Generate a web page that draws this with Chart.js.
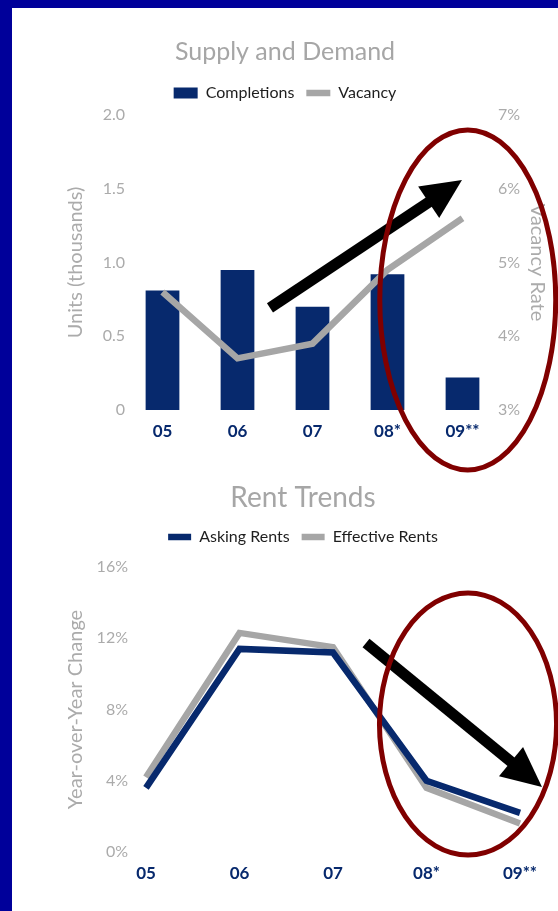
<!DOCTYPE html>
<html>
<head>
<meta charset="utf-8">
<script src="https://cdn.jsdelivr.net/npm/chart.js@4.4.1/dist/chart.umd.min.js"></script>
<style>
  html, body { margin: 0; padding: 0; width: 558px; height: 911px; overflow: hidden; background: #00009a; }
  #panel { position: absolute; left: 12px; top: 8px; width: 546px; height: 903px; background: #ffffff; }
  #supply { position: absolute; left: 0; top: 0; width: 546px; height: 468px; }
  #rent { position: absolute; left: 0; top: 468px; width: 546px; height: 435px; }
</style>
</head>
<body>
<div id="panel">
  <canvas id="supply" width="546" height="468"></canvas>
  <canvas id="rent" width="546" height="435"></canvas>
</div>
<script>
// ---- data ----
const years = ['05', '06', '07', '08*', '09**'];
const completions = [0.81, 0.95, 0.70, 0.92, 0.22];     // units, thousands
const vacancy = [4.6, 3.7, 3.9, 4.9, 5.6];              // vacancy rate, %
const unitTicks = ['0', '0.5', '1.0', '1.5', '2.0'];
const vacancyTicks = ['3%', '4%', '5%', '6%', '7%'];

const askingRents = [3.6, 11.4, 11.2, 4.0, 2.2];        // year-over-year change, %
const effectiveRents = [4.2, 12.3, 11.5, 3.6, 1.6];
const rentTicks = ['0%', '4%', '8%', '12%', '16%'];

// ---- styling ----
const NAVY = '#07296d';
const GREY = '#a6a6a6';
const LABEL_GREY = '#ababab';
const LEGEND_TEXT = '#1e1e1e';
const RING = '#800000';

Chart.defaults.font.family = 'Lato, "Open Sans", sans-serif';

// Adds a little air between the legend and the plot area.
function legendGap(extra) {
  return {
    id: 'legendGap',
    beforeInit(chart) {
      const legend = chart.legend;
      if (!legend) return;
      const fit = legend.fit;
      legend.fit = function () { fit.call(this); this.height += extra; };
    }
  };
}

// Highlight ring and trend arrow, placed in axis units.
function trendMarkup(spec) {
  return {
    id: 'trendMarkup',
    afterDraw(chart) {
      const ctx = chart.ctx;
      const xs = chart.scales.x, ys = chart.scales[spec.yAxis];
      const px = v => xs.getPixelForValue(v);
      const py = v => ys.getPixelForValue(v);
      ctx.save();
      // arrow
      const a = spec.arrow;
      const x0 = px(a.from[0]), y0 = py(a.from[1]);
      const x1 = px(a.to[0]), y1 = py(a.to[1]);
      const len = Math.hypot(x1 - x0, y1 - y0);
      ctx.save();
      ctx.translate(x0, y0);
      ctx.rotate(Math.atan2(y1 - y0, x1 - x0));
      ctx.fillStyle = '#000';
      ctx.fillRect(0, -5.5, len - 38, 11);
      ctx.beginPath();
      ctx.moveTo(len, 0);
      ctx.lineTo(len - 40, -19);
      ctx.lineTo(len - 40, 19);
      ctx.closePath();
      ctx.fill();
      ctx.restore();
      // ring
      const r = spec.ring;
      const cx = px(r.x), cy = py(r.y);
      const rx = Math.abs(px(r.x + r.dx) - cx);
      const ry = Math.abs(py(r.y + r.dy) - cy);
      ctx.beginPath();
      ctx.ellipse(cx, cy, rx, ry, 0, 0, Math.PI * 2);
      ctx.lineWidth = 5;
      ctx.strokeStyle = RING;
      ctx.stroke();
      ctx.restore();
    }
  };
}

const hiddenGrid = { display: false, drawTicks: false };
const hiddenBorder = { display: false };

// ---- Supply and Demand ----
new Chart(document.getElementById('supply'), {
  type: 'bar',
  data: {
    labels: years,
    datasets: [
      {
        type: 'bar', label: 'Completions', data: completions,
        backgroundColor: NAVY, borderWidth: 0,
        categoryPercentage: 1, barPercentage: 0.45,
        yAxisID: 'y', order: 2
      },
      {
        type: 'line', label: 'Vacancy', data: vacancy,
        borderColor: GREY, backgroundColor: GREY, borderWidth: 6.5,
        pointRadius: 0, tension: 0, yAxisID: 'y1', order: 1
      }
    ]
  },
  options: {
    responsive: false, animation: false, devicePixelRatio: 1,
    layout: { padding: 0 },
    plugins: {
      title: {
        display: true, text: 'Supply and Demand', color: GREY,
        font: { size: 25, weight: 'normal' }, padding: { top: 29, bottom: 6 }
      },
      legend: {
        labels: {
          usePointStyle: true, pointStyleWidth: 24, boxHeight: 11, padding: 12,
          color: LEGEND_TEXT, font: { size: 16 },
          sort: (a, b) => a.datasetIndex - b.datasetIndex,
          generateLabels(chart) {
            const items = Chart.defaults.plugins.legend.labels.generateLabels(chart);
            items.forEach(it => {
              it.pointStyle = chart.data.datasets[it.datasetIndex].type === 'bar' ? 'rect' : 'line';
            });
            return items;
          }
        }
      },
      tooltip: { enabled: false }
    },
    scales: {
      x: {
        grid: hiddenGrid, border: hiddenBorder,
        ticks: { color: NAVY, font: { size: 17, weight: 'bold' }, padding: 11 },
        afterFit(s) { s.height = 66; }
      },
      y: {
        position: 'left', min: 0, max: 2,
        grid: hiddenGrid, border: hiddenBorder,
        ticks: { stepSize: 0.5, callback: (v, i) => unitTicks[i], color: LABEL_GREY, font: { size: 16 }, padding: 0 },
        title: { display: true, text: 'Units (thousands)', color: LABEL_GREY, font: { size: 20 }, padding: { top: 52, bottom: 0 } },
        afterFit(s) { s.width = 113; }
      },
      y1: {
        position: 'right', min: 3, max: 7,
        grid: hiddenGrid, border: hiddenBorder,
        ticks: {
          stepSize: 1, callback: (v, i) => vacancyTicks[i], color: LABEL_GREY, font: { size: 16 },
          mirror: true, crossAlign: 'near', padding: 20
        },
        title: { display: true, text: 'Vacancy Rate', color: LABEL_GREY, font: { size: 20 }, padding: { top: 9, bottom: 0 } },
        afterFit(s) { s.width = 58; }
      }
    }
  },
  plugins: [
    legendGap(4),
    trendMarkup({
      yAxis: 'y',
      ring: { x: 4.07, y: 0.746, dx: 1.173, dy: 1.153 },
      arrow: { from: [1.433, 0.692], to: [3.993, 1.559] }
    })
  ]
});

// ---- Rent Trends ----
new Chart(document.getElementById('rent'), {
  type: 'line',
  data: {
    labels: years,
    datasets: [
      {
        label: 'Asking Rents', data: askingRents,
        borderColor: NAVY, backgroundColor: NAVY, borderWidth: 6.5,
        pointRadius: 0, tension: 0
      },
      {
        label: 'Effective Rents', data: effectiveRents,
        borderColor: GREY, backgroundColor: GREY, borderWidth: 6.5,
        pointRadius: 0, tension: 0
      }
    ]
  },
  options: {
    responsive: false, animation: false, devicePixelRatio: 1,
    layout: { padding: { left: 36, right: 0, top: 0, bottom: 0 } },
    plugins: {
      title: {
        display: true, text: 'Rent Trends', color: GREY,
        font: { size: 28, weight: 'normal' }, padding: { top: 5.2, bottom: 2.2 }
      },
      legend: {
        labels: {
          usePointStyle: true, pointStyle: 'line', pointStyleWidth: 23, padding: 12,
          color: LEGEND_TEXT, font: { size: 16 }
        }
      },
      tooltip: { enabled: false }
    },
    scales: {
      x: {
        offset: false,
        grid: hiddenGrid, border: hiddenBorder,
        ticks: { color: NAVY, font: { size: 17, weight: 'bold' }, padding: 11 },
        afterFit(s) { s.height = 59; }
      },
      y: {
        position: 'left', min: 0, max: 16,
        grid: hiddenGrid, border: hiddenBorder,
        ticks: { stepSize: 4, callback: (v, i) => rentTicks[i], color: LABEL_GREY, font: { size: 16 }, padding: 18 },
        title: { display: true, text: 'Year-over-Year Change', color: LABEL_GREY, font: { size: 20 }, padding: { top: 16, bottom: 0 } },
        afterFit(s) { s.width = 98; }
      },
      spacer: {
        type: 'linear', position: 'right', display: true,
        grid: hiddenGrid, border: hiddenBorder,
        ticks: { display: false },
        afterFit(s) { s.width = 38; }
      }
    }
  },
  plugins: [
    legendGap(12),
    trendMarkup({
      yAxis: 'y',
      ring: { x: 3.444, y: 7.186, dx: 0.947, dy: 7.354 },
      arrow: { from: [2.353, 11.733], to: [4.235, 3.649] }
    })
  ]
});
</script>
</body>
</html>
